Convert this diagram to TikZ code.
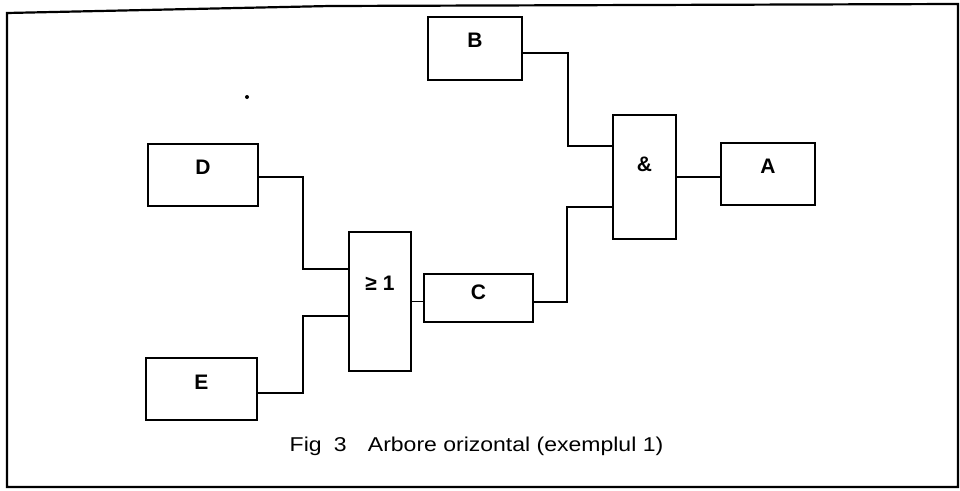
\documentclass[tikz,border=0pt]{standalone}
\usepackage{fontspec}
\setmainfont{Liberation Sans}
\begin{document}
\begin{tikzpicture}[x=1pt,y=-1pt,
  blk/.style={draw, line width=2pt, inner sep=0pt, minimum width=#1},
  lbl/.style={font=\fontsize{21}{21}\selectfont\bfseries, inner sep=0pt},
  wire/.style={line width=1.8pt},
  frame/.style={line width=2.2pt}]
  \useasboundingbox (0,0) rectangle (960,490);
  % outer frame
  \draw[frame] (7,13) -- (330,6) -- (958,4) -- (958,487) -- (7,487) -- cycle;
  % blocks
  \node[blk=94pt, minimum height=63pt, label={[lbl, yshift=8pt]center:B}] (B) at (475,48.5) {};
  \node[blk=110pt, minimum height=62pt, label={[lbl, yshift=8pt]center:D}] (D) at (203,175) {};
  \node[blk=111pt, minimum height=62pt, label={[lbl, yshift=7pt]center:E}] (E) at (201.5,389) {};
  \node[blk=62pt, minimum height=139pt, label={[lbl, yshift=18pt]center:≥ 1}] (or) at (380,301.5) {};
  \node[blk=109pt, minimum height=48pt, label={[lbl, yshift=6pt]center:C}] (C) at (478.5,298) {};
  \node[blk=63pt, minimum height=124pt, label={[lbl, yshift=13pt]center:\&}] (and) at (644.5,177) {};
  \node[blk=94pt, minimum height=62pt, label={[lbl, yshift=8pt]center:A}] (A) at (768,174) {};
  % bend points of the wires
  \coordinate (xB) at (568,100);
  \coordinate (xC) at (567,250);
  \coordinate (xD) at (303,220);
  \coordinate (xE) at (303,350);
  % wires
  \draw[wire] ([yshift=-4.5pt]B.east) -| (xB) |- ([yshift=31pt]and.west);
  \draw[wire] ([yshift=-4pt]C.east) -| (xC) |- ([yshift=-30pt]and.west);
  \draw[wire] (and.east) -- (and.east -| A.west);
  \draw[wire] ([yshift=-2pt]D.east) -| (xD) |- ([yshift=32.5pt]or.west);
  \draw[wire] ([yshift=-4pt]E.east) -| (xE) |- ([yshift=-14.5pt]or.west);
  \draw[wire] (or.east) -- (or.east -| C.west);
  % stray dot
  \fill (247,97) circle (2pt);
  % caption
  \node[font=\fontsize{20}{20}\selectfont, anchor=base] (cap) at (476.5,451)
    {\scalebox{1.15}[1]{Fig\hspace{5pt} 3\hspace{13pt} Arbore orizontal (exemplul 1)}};
\end{tikzpicture}
\end{document}
